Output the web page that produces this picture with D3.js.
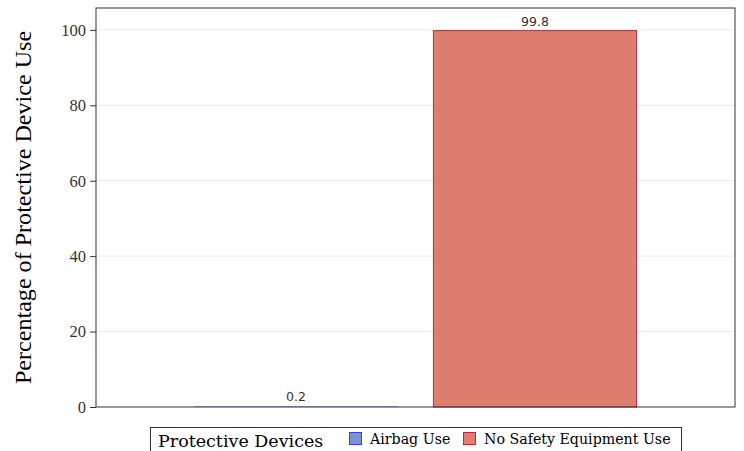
<!DOCTYPE html>
<html><head><meta charset="utf-8">
<script src="https://cdn.jsdelivr.net/npm/d3@7"></script>
<style>body{margin:0;background:#fff}</style>
</head><body>
<script>
const devices = ["Airbag Use", "No Safety Equipment Use"];
const values = [0.2, 99.8];
const yTicks = [0, 20, 40, 60, 80, 100];
const legendTitle = "Protective Devices";
const yTitle = "Percentage of Protective Device Use";
const fills = ["#7B93CF", "#DE7E6F"];
const strokes = ["#3B3BD6", "#B8283E"];

const W = 744, H = 451;
const m = {left: 96, right: 9, top: 8, bottom: 44};
const svg = d3.select("body").append("svg").attr("width", W).attr("height", H);

const x = d3.scaleBand().domain(devices).range([m.left, W - m.right])
  .paddingInner(0.15).paddingOuter(0.412);
const y = d3.scaleLinear().domain([0, 105.8]).range([H - m.bottom, m.top]);

// grid
svg.append("g").selectAll("line").data(yTicks.filter(d => d > 0)).join("line")
  .attr("x1", m.left).attr("x2", W - m.right)
  .attr("y1", d => y(d)).attr("y2", d => y(d))
  .attr("stroke", "#e9e9e9").attr("stroke-width", 1);

// bars
svg.append("g").selectAll("rect").data(devices).join("rect")
  .attr("x", d => x(d)).attr("width", x.bandwidth())
  .attr("y", (d, i) => y(values[i])).attr("height", (d, i) => y(0) - y(values[i]))
  .attr("fill", (d, i) => fills[i])
  .attr("stroke", (d, i) => (y(0) - y(values[i]) > 2 ? strokes[i] : "none"))
  .attr("stroke-width", 1);

// value labels
svg.append("g").selectAll("text").data(devices).join("text")
  .attr("x", d => x(d) + x.bandwidth() / 2)
  .attr("y", (d, i) => y(values[i]) - 5)
  .attr("text-anchor", "middle")
  .attr("font-family", "DejaVu Sans").attr("font-size", 12.5).attr("fill", "#333")
  .text((d, i) => values[i].toFixed(1));

// y axis
const yAxis = d3.axisLeft(y).tickValues(yTicks).tickSize(6).tickPadding(4);
const ga = svg.append("g").attr("transform", `translate(${m.left},0)`).call(yAxis);
ga.select(".domain").remove();
ga.selectAll("line").attr("stroke", "#333");
ga.selectAll("text").attr("font-family", "Liberation Serif").attr("font-size", 16.5).attr("fill", "#333");

// frame
svg.append("rect").attr("x", m.left).attr("y", m.top)
  .attr("width", W - m.right - m.left).attr("height", H - m.bottom - m.top)
  .attr("fill", "none").attr("stroke", "#333").attr("stroke-width", 1);

// y title
svg.append("text").attr("transform", `translate(31,${(y(0) + m.top) / 2}) rotate(-90)`)
  .attr("text-anchor", "middle").attr("font-family", "Liberation Serif").attr("font-size", 24.1)
  .attr("fill", "#000").text(yTitle);

// legend
const lg = svg.append("g");
lg.append("rect").attr("x", 150.5).attr("y", 427.5).attr("width", 531).attr("height", 30)
  .attr("fill", "#fff").attr("stroke", "#333");
lg.append("text").attr("x", 158).attr("y", 447).attr("font-family", "DejaVu Serif")
  .attr("font-size", 17.5).attr("fill", "#000").text(legendTitle);
const lx = [349, 463];
devices.forEach((d, i) => {
  lg.append("rect").attr("x", lx[i] + 0.5).attr("y", 432.5).attr("width", 12).attr("height", 12)
    .attr("fill", fills[i]).attr("stroke", strokes[i]);
  lg.append("text").attr("x", lx[i] + 21).attr("y", 444).attr("font-family", "DejaVu Serif")
    .attr("font-size", 14.2).attr("fill", "#000").text(d);
});
</script>
</body></html>
